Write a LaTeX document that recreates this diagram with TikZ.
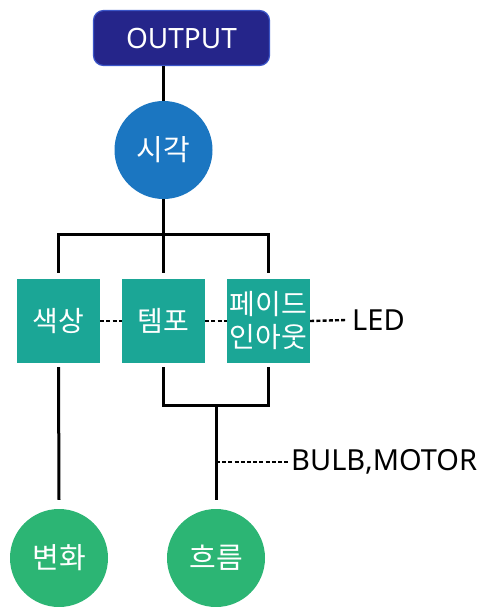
\documentclass[tikz,border=0pt]{standalone}
\usepackage{fontspec}
\setmainfont{Noto Sans CJK KR}
\newfontfamily\lat{Noto Sans}
\definecolor{navy}{HTML}{25258A}
\definecolor{navyedge}{HTML}{3B55C8}
\definecolor{skyb}{HTML}{1B76C1}
\definecolor{tealb}{HTML}{1BA696}
\definecolor{greenc}{HTML}{2CB574}
\begin{document}
\begin{tikzpicture}[x=1pt,y=-1pt,
  link/.style={line width=3pt, black},
  dotl/.style={line width=2.4pt, black, dash pattern=on 4pt off 2.2pt},
  boxn/.style={rectangle, fill=tealb, minimum width=83pt, minimum height=84pt, inner sep=0pt, text=white, align=center, font=\fontsize{28}{33}\selectfont},
  circn/.style={circle, minimum size=98pt, inner sep=0pt, text=white, font=\fontsize{29}{33}\selectfont},
  lbl/.style={anchor=west, inner sep=0pt, font=\lat\fontsize{29}{34}\selectfont}]
\useasboundingbox (0,0) rectangle (481,607);
\node[rectangle, rounded corners=10pt, fill=navy, draw=navyedge, line width=1.2pt, minimum width=176pt, minimum height=55pt, text=white, font=\lat\fontsize{28}{32}\selectfont] (out) at (181.5,38) {OUTPUT};
\node[circn, fill=skyb] (sigak) at (163.5,150) {시각};
\node[boxn] (color) at (58.5,321) {색상};
\node[boxn] (tempo) at (163.5,321) {템포};
\node[boxn] (fade) at (268.5,321) {페이드\\인아웃};
\node[circn, fill=greenc] (change) at (59,558) {변화};
\node[circn, fill=greenc] (flow) at (216,558) {흐름};
\node[lbl] (led) at (352,320) {LED};
\node[lbl] (bulb) at (291,462) {BULB,MOTOR};
\draw[link] (sigak.north |- out.south) -- (sigak.north);
\draw[link] (sigak.south) -- ([yshift=6pt]tempo.north);
\draw[link] ([yshift=6pt]color.north) -- ++(0,-38) -| ([yshift=6pt]fade.north);
\draw[link] ([yshift=-4pt]tempo.south) -- ++(0,38) -| ([yshift=-4pt]fade.south);
\coordinate (j) at (216,405);
\draw[link] (j) -- ([yshift=9pt]flow.north);
\draw[link] ([yshift=-4pt]color.south) -- ([yshift=9pt]change.north);
\draw[dotl] (color.east) -- (tempo.west);
\draw[dotl] (tempo.east) -- (fade.west);
\draw[dotl] (fade.east) -- ([xshift=-6pt]led.west);
\coordinate (b) at (216,462);
\draw[dotl] (b) -- ([xshift=-1pt]bulb.west);
\end{tikzpicture}
\end{document}
